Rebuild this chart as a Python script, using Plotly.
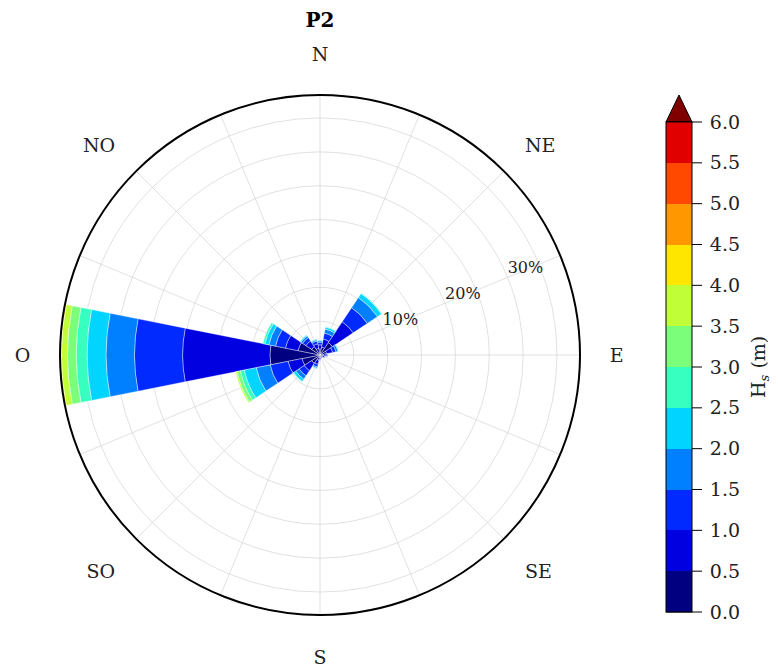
import numpy as np
import plotly.graph_objects as go

# ---------------- data ----------------
directions = ["N", "NNE", "NE", "ENE", "E", "ESE", "SE", "SSE",
              "S", "SSW", "SW", "WSW", "W", "WNW", "NW", "NNW"]
dir_angles = [0, 22.5, 45, 67.5, 90, 112.5, 135, 157.5,
              180, 202.5, 225, 247.5, 270, 292.5, 315, 337.5]
compass_labels = ["N", "", "NE", "", "E", "", "SE", "",
                  "S", "", "SO", "", "O", "", "NO", ""]

hs_edges = [0.0, 0.5, 1.0, 1.5, 2.0, 2.5, 3.0, 3.5, 4.0, 4.5, 5.0, 5.5, 6.0]

# frequency (%) per direction for each Hs bin
hs_0_05 = [0.9, 1.2, 2.2, 1.0, 0.5, 0.4, 0.3, 0.3, 0.4, 0.8, 1.5, 2.7, 7.4, 3.3, 1.5, 1.0]
hs_05_10 = [0.6, 1.2, 3.7, 0.9, 0.4, 0.3, 0.2, 0.2, 0.3, 0.6, 1.3, 2.1, 12.9, 1.9, 1.0, 0.7]
hs_10_15 = [0.4, 0.9, 2.5, 0.5, 0.2, 0.1, 0.05, 0.05, 0.1, 0.4, 0.9, 2.7, 7.1, 1.5, 0.6, 0.4]
hs_15_20 = [0.2, 0.6, 1.8, 0.3, 0.1, 0.05, 0, 0, 0.05, 0.2, 0.6, 2.1, 4.2, 1.0, 0.3, 0.2]
hs_20_25 = [0.1, 0.3, 0.7, 0.1, 0, 0, 0, 0, 0, 0.1, 0.4, 1.8, 2.8, 0.6, 0.15, 0.1]
hs_25_30 = [0, 0.1, 0.1, 0, 0, 0, 0, 0, 0, 0, 0.1, 0.6, 1.6, 0.3, 0.05, 0]
hs_30_35 = [0, 0, 0, 0, 0, 0, 0, 0, 0, 0, 0, 0.5, 1.3, 0, 0, 0]
hs_35_40 = [0, 0, 0, 0, 0, 0, 0, 0, 0, 0, 0, 0.2, 0.9, 0, 0, 0]
hs_40_45 = [0, 0, 0, 0, 0, 0, 0, 0, 0, 0, 0, 0, 0.2, 0, 0, 0]
hs_45_50 = [0] * 16
hs_50_55 = [0] * 16
hs_55_60 = [0] * 16

bins = [hs_0_05, hs_05_10, hs_10_15, hs_15_20, hs_20_25, hs_25_30,
        hs_30_35, hs_35_40, hs_40_45, hs_45_50, hs_50_55, hs_55_60]

radial_ticks = [5, 10, 15, 20, 25, 30, 35]
radial_labels = [10, 20, 30]
cbar_ticks = [0.0, 0.5, 1.0, 1.5, 2.0, 2.5, 3.0, 3.5, 4.0, 4.5, 5.0, 5.5, 6.0]


# ---------------- jet colormap ----------------
def jet(x):
    r = np.interp(x, [0, 0.35, 0.66, 0.89, 1], [0, 0, 1, 1, 0.5])
    g = np.interp(x, [0, 0.125, 0.375, 0.64, 0.91, 1], [0, 0, 1, 1, 0, 0])
    b = np.interp(x, [0, 0.11, 0.34, 0.65, 1], [0.5, 1, 1, 0, 0])
    return "rgb(%d,%d,%d)" % (round(r * 255), round(g * 255), round(b * 255))


nb = len(bins)
colors = [jet(i / nb) for i in range(nb)]
over_color = jet(1.0)

cscale = []
for i, c in enumerate(colors):
    cscale.append([i / nb, c])
    cscale.append([(i + 1) / nb, c])

W, H = 778, 666
OFF = 8  # page offset of the figure (body margin)
FONT = "DejaVu Serif"


def px(x):
    return (x - OFF) / W


def py(y):
    return 1 - (y - OFF) / H


CB_L, CB_R, CB_T, CB_B, CB_TIP = 666, 692, 122, 612, 95

fig = go.Figure()
for i, vals in enumerate(bins):
    mid = (hs_edges[i] + hs_edges[i + 1]) / 2
    marker = dict(color=[mid] * len(vals), colorscale=cscale, cmin=0, cmax=6,
                  line=dict(color="white", width=0.4))
    if i == 0:
        marker.update(showscale=True, colorbar=dict(
            x=px(CB_L), xanchor="left", xpad=0,
            y=py((CB_T + CB_B) / 2), yanchor="middle", ypad=0,
            len=CB_B - CB_T, lenmode="pixels", thickness=CB_R - CB_L, thicknessmode="pixels",
            outlinecolor="black", outlinewidth=1,
            tickmode="array", tickvals=cbar_ticks,
            ticktext=["%.1f" % t for t in cbar_ticks],
            ticks="outside", ticklen=14, tickcolor="rgba(0,0,0,0)",
            tickfont=dict(family=FONT, size=19, color="#222"),
        ))
    else:
        marker.update(showscale=False)
    fig.add_trace(go.Barpolar(
        r=vals, theta=dir_angles, width=[22.5] * len(vals),
        marker=marker, name="%.1f-%.1f" % (hs_edges[i], hs_edges[i + 1]),
        showlegend=False, hoverinfo="r+theta+name",
    ))

# radial percentage labels
fig.add_trace(go.Scatterpolar(
    r=radial_labels, theta=[67.5] * len(radial_labels), mode="text",
    text=["%d%%" % v for v in radial_labels], textposition="top right",
    textfont=dict(family=FONT, size=16, color="#222"),
    showlegend=False, hoverinfo="skip",
))

totals = np.sum(np.array(bins), axis=0)
rmax = float(totals.max())

fig.update_layout(
    width=W, height=H,
    margin=dict(l=0, r=0, t=0, b=0, autoexpand=False),
    paper_bgcolor="white",
    title=dict(text="<b>P2</b>", x=px(320), xanchor="center", y=py(20),
               yanchor="middle", font=dict(family=FONT, size=20, color="black")),
    polar=dict(
        domain=dict(x=[px(60), px(580)], y=[py(615), py(95)]),
        bgcolor="white",
        barmode="stack",
        bargap=0,
        radialaxis=dict(range=[0, rmax], tickvals=radial_ticks, showticklabels=False,
                        ticks="", showline=False, gridcolor="rgba(205,205,205,0.6)",
                        gridwidth=1, angle=22.5),
        angularaxis=dict(rotation=90, direction="clockwise", thetaunit="degrees",
                         tickmode="array", tickvals=dir_angles, ticktext=compass_labels,
                         ticks="outside", ticklen=25, tickcolor="rgba(0,0,0,0)",
                         tickfont=dict(family=FONT, size=19, color="#222"),
                         showline=True, linecolor="black", linewidth=2,
                         gridcolor="rgba(205,205,205,0.6)", gridwidth=1),
    ),
    annotations=[dict(text="H<sub><i>s</i></sub> (m)", textangle=-90,
                      x=px(759), y=py(367), xref="paper", yref="paper",
                      xanchor="center", yanchor="middle", showarrow=False,
                      font=dict(family=FONT, size=19, color="#222"))],
)

# colorbar extension triangle (values above 6.0), bin separators and ticks
fig.add_shape(type="path", xref="paper", yref="paper",
              path="M %f %f L %f %f L %f %f Z" % (px(CB_L), py(CB_T), px(CB_R), py(CB_T),
                                                 px((CB_L + CB_R) / 2), py(CB_TIP)),
              fillcolor=over_color, line=dict(color="black", width=1))
for t in cbar_ticks:
    yy = py(CB_B) + (py(CB_T) - py(CB_B)) * t / 6.0
    fig.add_shape(type="line", xref="paper", yref="paper",
                  x0=px(CB_L), x1=px(CB_R + 10), y0=yy, y1=yy,
                  line=dict(color="black", width=1))

fig.write_html("out.html")
